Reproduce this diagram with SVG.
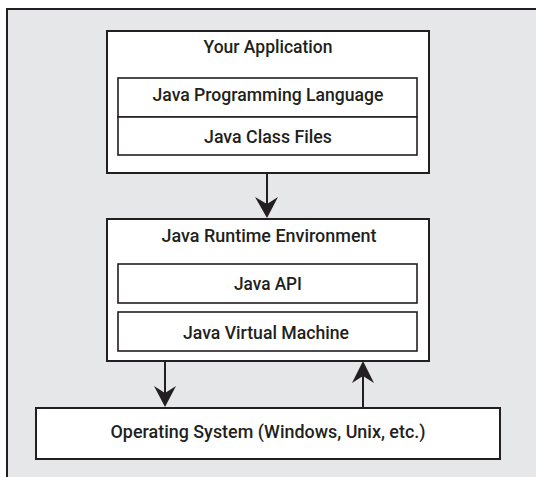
<svg xmlns="http://www.w3.org/2000/svg" width="536" height="477" viewBox="0 0 536 477">
<style>
.box{fill:#fff;stroke:#231f20;stroke-width:2}
.inner{fill:#fff;stroke:#231f20;stroke-width:1.6}
.t{font-family:Roboto,"Liberation Sans",sans-serif;font-weight:500;font-size:19px;fill:#231f20;text-anchor:middle}
.ln{stroke:#231f20;stroke-width:2;fill:none}
.ah{fill:#231f20}
</style>
<rect x="0" y="0" width="536" height="477" fill="#fff"/>
<rect x="7" y="9" width="529" height="468" fill="#e6e7e8"/>
<path d="M7,477 V9 H536" fill="none" stroke="#231f20" stroke-width="2"/>
<g id="app">
<rect class="box" x="107" y="31" width="322" height="142"/>
<text class="t" x="268" y="53" textLength="129" lengthAdjust="spacingAndGlyphs">Your Application</text>
</g>
<g id="lang">
<rect class="inner" x="118" y="78" width="299" height="39"/>
<text class="t" x="268" y="101" textLength="231" lengthAdjust="spacingAndGlyphs">Java Programming Language</text>
</g>
<g id="classfiles">
<rect class="inner" x="118" y="117" width="299" height="38"/>
<text class="t" x="268" y="143" textLength="128" lengthAdjust="spacingAndGlyphs">Java Class Files</text>
</g>
<g id="jre">
<rect class="box" x="107" y="219" width="322" height="142"/>
<text class="t" x="269" y="242" textLength="215" lengthAdjust="spacingAndGlyphs">Java Runtime Environment</text>
</g>
<g id="api">
<rect class="inner" x="118" y="264" width="299" height="39"/>
<text class="t" x="268" y="290" textLength="68" lengthAdjust="spacingAndGlyphs">Java API</text>
</g>
<g id="jvm">
<rect class="inner" x="118" y="312" width="299" height="39"/>
<text class="t" x="266" y="339" textLength="166" lengthAdjust="spacingAndGlyphs">Java Virtual Machine</text>
</g>
<g id="os">
<rect class="box" x="36" y="408" width="464" height="51"/>
<text class="t" x="268" y="438" textLength="315" lengthAdjust="spacingAndGlyphs">Operating System (Windows, Unix, etc.)</text>
</g>
<g id="connectors">
<line class="ln" x1="267" y1="173" x2="267" y2="204"/>
<path class="ah" d="M267,218 L255,197 L267,204 L278,197 Z"/>
<line class="ln" x1="165" y1="361" x2="165" y2="393"/>
<path class="ah" d="M165,407 L154,386 L165,393 L176,386 Z"/>
<line class="ln" x1="363" y1="408" x2="363" y2="376"/>
<path class="ah" d="M363,361 L352,383 L363,376 L374,383 Z"/>
</g>
</svg>
